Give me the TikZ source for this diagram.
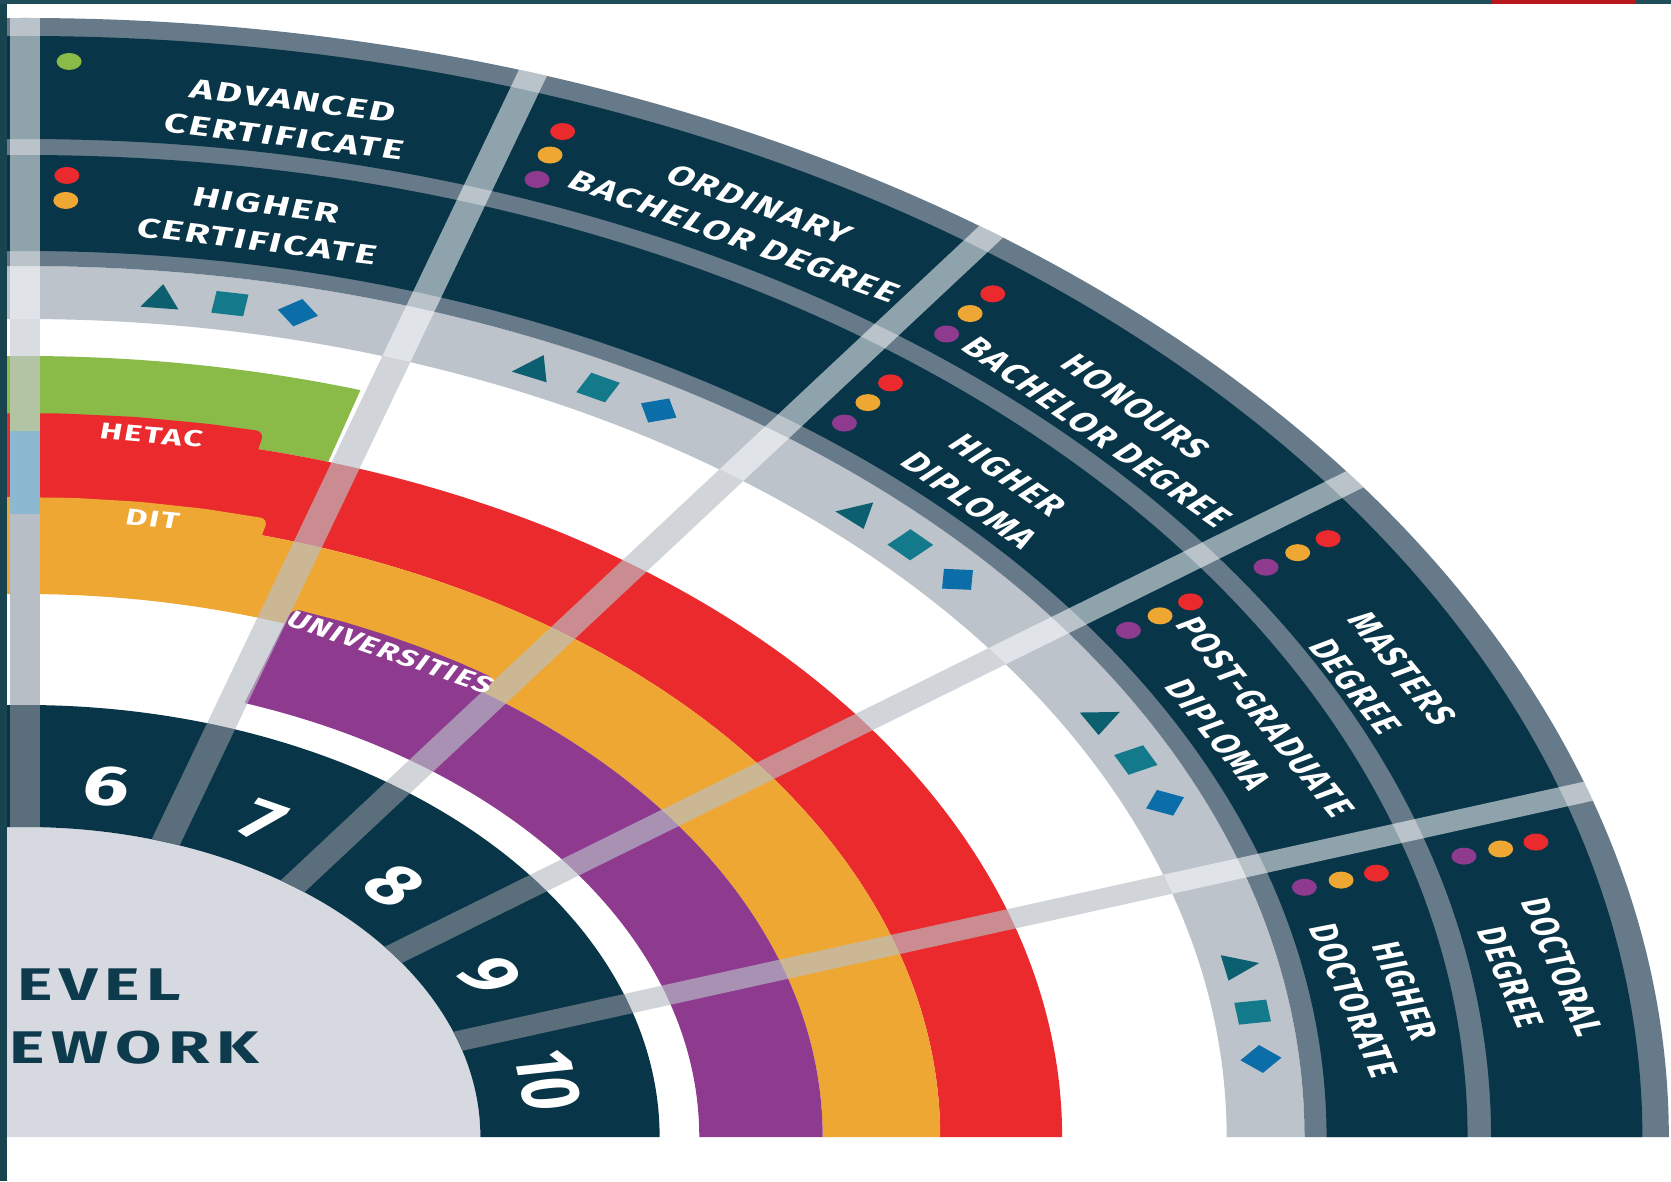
\documentclass[tikz,border=0pt]{standalone}
\usepackage{fontspec}
\setmainfont{Fira Sans}
\newfontfamily\labfont[LetterSpace=6]{Fira Sans}
\newfontfamily\bigfont[LetterSpace=10]{Fira Sans}
\usetikzlibrary{calc}

\definecolor{navy}{HTML}{083548}
\definecolor{rimgrey}{HTML}{677A89}
\definecolor{lvlsep}{HTML}{5B6E7B}
\definecolor{symband}{HTML}{BCC3CB}
\definecolor{discgrey}{HTML}{D6D9E0}
\definecolor{bandgreen}{HTML}{8ABA47}
\definecolor{bandred}{HTML}{EA2A2D}
\definecolor{bandorange}{HTML}{EEA733}
\definecolor{bandpurple}{HTML}{8E3B8F}
\definecolor{trifill}{HTML}{0B5F6F}
\definecolor{sqfill}{HTML}{137A8B}
\definecolor{diafill}{HTML}{0B6EA9}
\definecolor{midsep}{HTML}{B9C0C7}
\definecolor{stripgreen}{HTML}{B3C4A5}
\definecolor{stripblue}{HTML}{8CB8D0}
\definecolor{stripgrey}{HTML}{B8BEC6}
\definecolor{striplight}{HTML}{D9DCE0}
\definecolor{edgeteal}{HTML}{17444F}
\definecolor{topteal}{HTML}{1F4E58}
\definecolor{topred}{HTML}{B8181B}
\definecolor{frametext}{HTML}{0D3A4C}

\tikzset{
	ringlabel/.style={text=white, font=\labfont\fontsize{7.7}{10.4}\selectfont\bfseries, align=center, inner sep=0pt, transform shape},
	tablabel/.style={text=white, font=\labfont\fontsize{6.5}{7}\selectfont\bfseries, inner sep=0pt, transform shape},
	lvlnum/.style={text=white, font=\fontsize{16}{16}\selectfont\bfseries, inner sep=0pt, transform shape},
	frametxt/.style={text=frametext, font=\bigfont\fontsize{13}{13}\selectfont\bfseries, inner sep=0pt, anchor=base west, transform shape},
	midbar/.style={fill=midsep, fill opacity=.65},
	outbar/.style={fill=white, fill opacity=.55}
}

% annular sector: style, start angle, end angle, inner radius, outer radius
\newcommand{\ringpart}[5]{\fill[#1] (#2:#4) arc[start angle=#2, end angle=#3, radius=#4] -- (#3:#5) arc[start angle=#3, end angle=#2, radius=#5] -- cycle;}
% radial bar: style, angle, inner radius, outer radius
\newcommand{\sepbar}[4]{\fill[#1] ($(#2:#3)+(#2-90:10)$) -- ($(#2:#4)+(#2-90:10)$) -- ($(#2:#4)+(#2+90:10)$) -- ($(#2:#3)+(#2+90:10)$) -- cycle;}

\begin{document}
\begin{tikzpicture}[x=0.01cm, y=0.01cm]
	\useasboundingbox (-25,-44) rectangle (1646,1137);
	\fill[white] (-25,-44) rectangle (1646,1137);
	\begin{scope}
	\clip (-18,0) rectangle (1646,1137);
	\begin{scope}[xscale=1.469]
		% centre disc and level ring
		\fill[discgrey] (0:310) arc[start angle=0, end angle=100, radius=310] -- (-40,0) -- cycle;
		\ringpart{navy}{0}{95}{310}{432}
		% provider bands
		\ringpart{bandgreen}{73}{95}{706}{781}
		\ringpart{bandred}{0}{95}{623}{706}
		\fill[bandred, rounded corners=2.3pt] (77:660) -- (77:724) -- (80:724) -- (84:724) -- (88:724) -- (92:724) -- (95:724) -- (95:660) -- cycle;
		\ringpart{bandorange}{0}{95}{543}{623}
		\fill[bandorange, rounded corners=2.3pt] (75:590) -- (75:640) -- (79:640) -- (83:640) -- (87:640) -- (91:640) -- (95:640) -- (95:590) -- cycle;
		\ringpart{bandpurple}{0}{71}{459}{543}
		\fill[bandpurple, rounded corners=2.3pt] (55:510) -- (55:559) -- (58:559) -- (61:559) -- (64:559) -- (67:559) -- (71:559) -- (71:510) -- cycle;
		% award rings
		\ringpart{symband}{0}{95}{818}{871}
		\ringpart{rimgrey}{0}{95}{871}{1119}
		\ringpart{navy}{0}{95}{886}{982}
		\ringpart{navy}{0}{95}{998}{1101}
		% radial separators
		\foreach \a in {90,72,54,36,18} {
			\sepbar{lvlsep}{\a}{310}{432}
			\sepbar{outbar}{\a}{818}{1119}
		}
		\foreach \a in {72,54,36,18} {
			\sepbar{midbar}{\a}{432}{818}
		}
		\sepbar{stripgrey}{90}{432}{623}
		\sepbar{stripblue}{90}{623}{706}
		\sepbar{stripgreen}{90}{706}{781}
		\sepbar{striplight}{90}{781}{818}
		% symbols
		\foreach \s in {90,72,54,36,18} {
			\pgfmathsetmacro\ta{\s-6.3}
			\pgfmathsetmacro\sa{\s-9.5}
			\pgfmathsetmacro\da{\s-12.7}
			\fill[trifill] (\ta:858) -- ($(\ta:834)+(\ta+90:13)$) -- ($(\ta:834)+(\ta-90:13)$) -- cycle;
			\fill[sqfill] ($(\sa:834)+(\sa+90:11)$) -- ($(\sa:856)+(\sa+90:11)$) -- ($(\sa:856)+(\sa-90:11)$) -- ($(\sa:834)+(\sa-90:11)$) -- cycle;
			\fill[diafill] (\da:859) -- ($(\da:845)+(\da-90:14)$) -- (\da:831) -- ($(\da:845)+(\da+90:14)$) -- cycle;
		}
		% provider dots
		\fill[bandgreen] (88.4:1076) circle[radius=8.5];
		\fill[bandred] (88.3:962) circle[radius=8.5];
		\fill[bandorange] (88.3:937) circle[radius=8.5];
		\foreach \s in {72,54,36,18} {
			\fill[bandred] (\s-2:1070) circle[radius=8.5];
			\fill[bandorange] (\s-2:1045) circle[radius=8.5];
			\fill[bandpurple] (\s-2:1019) circle[radius=8.5];
		}
		\foreach \s in {54,36,18} {
			\fill[bandred] (\s-2:957) circle[radius=8.5];
			\fill[bandorange] (\s-2:932) circle[radius=8.5];
			\fill[bandpurple] (\s-2:906) circle[radius=8.5];
		}
		% award names
		\node[ringlabel, rotate=-10] (advcert) at (80:1034) {ADVANCED\\CERTIFICATE};
		\node[ringlabel, rotate=-10] (highcert) at (80:928) {HIGHER\\CERTIFICATE};
		\node[ringlabel, rotate=-28] (ordbach) at (61.8:1040) {ORDINARY\\BACHELOR DEGREE};
		\node[ringlabel, rotate=-46] (honbach) at (44:1033) {HONOURS\\BACHELOR DEGREE};
		\node[ringlabel, rotate=-46] (highdip) at (44.7:923) {HIGHER\\DIPLOMA};
		\node[ringlabel, rotate=-61] (masters) at (26.5:1030) {MASTERS\\DEGREE};
		\node[ringlabel, rotate=-61] (pgdip) at (26.4:925) {POST-GRADUATE\\DIPLOMA};
		\node[ringlabel, rotate=-74] (doctoral) at (9.1:1042) {DOCTORAL\\DEGREE};
		\node[ringlabel, rotate=-74] (highdoc) at (8.7:933) {HIGHER\\DOCTORATE};
		% band tabs
		\node[tablabel, rotate=-7] (hetac) at (83:707) {HETAC};
		\node[tablabel, rotate=-8] (dit) at (82:624) {DIT};
		\node[tablabel, rotate=-27] (unis) at (62.8:545) {UNIVERSITIES};
		% levels
		\node[lvlnum, rotate=-9] (lvl6) at (81:355) {6};
		\node[lvlnum, rotate=-27] (lvl7) at (63:355) {7};
		\node[lvlnum, rotate=-45] (lvl8) at (45:355) {8};
		\node[lvlnum, rotate=-63] (lvl9) at (27:355) {9};
		\node[lvlnum, rotate=-81] (lvl10) at (9:360) {10};
		\node[frametxt] (wordlevel) at (-6,137) {EVEL};
		\node[frametxt] (wordframe) at (-11,74) {EWORK};
	\end{scope}
	\end{scope}
	\fill[edgeteal] (-25,-44) rectangle (-18,1137);
	\fill[topteal] (-25,1133) rectangle (1646,1137);
	\fill[topred] (1467,1133) rectangle (1611,1137);
\end{tikzpicture}
\end{document}
